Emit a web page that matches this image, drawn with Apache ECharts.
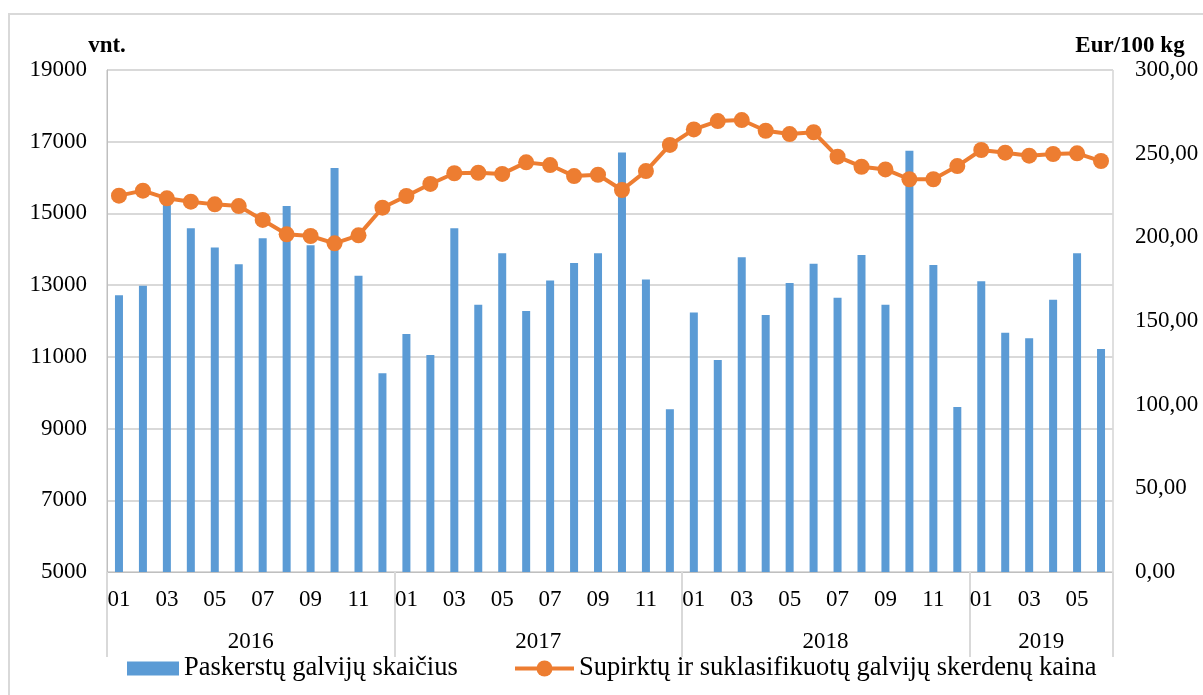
<!DOCTYPE html>
<html>
<head>
<meta charset="utf-8">
<script src="https://cdn.jsdelivr.net/npm/echarts@6/dist/echarts.min.js"></script>
<style>
html,body{margin:0;padding:0;background:#fff;}
#frame{position:absolute;left:8px;top:13px;width:1300px;height:800px;border:2px solid #d9d9d9;box-sizing:border-box;}
#chart{position:absolute;left:0;top:0;width:1203px;height:695px;}
</style>
</head>
<body>
<div id="frame"></div>
<div id="chart"></div>
<script>
// ---- data ----
const months = ['01','02','03','04','05','06','07','08','09','10','11','12',
  '01','02','03','04','05','06','07','08','09','10','11','12',
  '01','02','03','04','05','06','07','08','09','10','11','12',
  '01','02','03','04','05','06'];
const years = ['2016','2017','2018','2019'];
const yearStart = [0, 12, 24, 36, 42];           // category boundaries of each year
const slaughtered = [12720, 12980, 15400, 14590, 14050, 13580, 14310, 15210, 14110, 16270, 13260, 10540,
  11640, 11050, 14590, 12450, 13890, 12280, 13130, 13620, 13890, 16700, 13160, 9540,
  12240, 10910, 13780, 12170, 13060, 13600, 12650, 13840, 12450, 16750, 13560, 9600,
  13110, 11670, 11520, 12590, 13890, 11220];
const price = [224.9, 227.9, 223.3, 221.3, 219.7, 218.7, 210.4, 201.8, 200.8, 196.4, 201.2, 217.7,
  224.7, 231.9, 238.3, 238.6, 237.9, 244.8, 243.2, 236.6, 237.4, 228.3, 239.6, 255.2,
  264.5, 269.5, 270.1, 263.7, 261.7, 262.8, 248.2, 242.2, 240.6, 234.7, 234.7, 242.6,
  252.2, 250.6, 248.8, 249.8, 250.2, 245.6];
const leftTicks = [5000, 7000, 9000, 11000, 13000, 15000, 17000, 19000];
const rightTicks = [0, 50, 100, 150, 200, 250, 300];
const seriesNames = ['Paskerstų galvijų skaičius', 'Supirktų ir suklasifikuotų galvijų skerdenų kaina'];

const yearCenters = years.map((y, i) => (yearStart[i] + yearStart[i + 1]) / 2);
const FONT = "'Liberation Serif','Times New Roman',serif";
const legendText = {fontFamily: FONT, fontSize: 26.5, color: '#000'};

const chart = echarts.init(document.getElementById('chart'), null, {renderer: 'canvas'});
chart.setOption({
  animation: false,
  textStyle: {fontFamily: FONT, color: '#000'},
  grid: {left: 107, right: 90, top: 70, bottom: 123, show: true, borderColor: '#bfbfbf', borderWidth: 1, backgroundColor: 'transparent'},
  legend: [
    {
      left: 127, top: 655, padding: 0, itemWidth: 52, itemHeight: 14,
      textStyle: legendText,
      data: [{name: seriesNames[0], icon: 'rect'}]
    },
    {
      left: 513, top: 655, padding: 0, itemWidth: 59, itemHeight: 20,
      textStyle: legendText,
      lineStyle: {width: 4},
      data: [{name: seriesNames[1]}]
    }
  ],
  xAxis: [
    {
      type: 'category', data: months, boundaryGap: true, position: 'bottom',
      axisLine: {show: true, lineStyle: {color: '#bfbfbf', width: 1}},
      axisTick: {show: false},
      axisLabel: {interval: 1, margin: 16, fontSize: 23, fontFamily: FONT, color: '#000'},
      splitLine: {show: false}
    },
    {
      type: 'value', min: 0, max: months.length, position: 'bottom',
      axisLine: {show: false},
      axisTick: {show: true, customValues: yearStart, length: 85, lineStyle: {color: '#d9d9d9', width: 2}},
      axisLabel: {customValues: yearCenters, margin: 58, fontSize: 23, fontFamily: FONT, color: '#000',
        formatter: v => years[yearCenters.indexOf(v)] || ''},
      splitLine: {show: false}
    }
  ],
  yAxis: [
    {
      type: 'value', min: leftTicks[0], max: leftTicks[leftTicks.length - 1], position: 'left',
      name: 'vnt.', nameLocation: 'end', nameGap: 12,
      nameTextStyle: {fontFamily: FONT, fontSize: 23, fontWeight: 'bold', color: '#000'},
      axisLine: {show: true, lineStyle: {color: '#bfbfbf'}},
      axisTick: {show: false, customValues: leftTicks},
      splitLine: {show: true, lineStyle: {color: '#d9d9d9', width: 2}},
      axisLabel: {customValues: leftTicks, margin: 20, fontSize: 23, fontFamily: FONT, color: '#000',
        formatter: v => String(v)}
    },
    {
      type: 'value', min: rightTicks[0], max: rightTicks[rightTicks.length - 1], interval: 50, position: 'right',
      name: 'Eur/100 kg', nameLocation: 'end', nameGap: 12,
      nameTextStyle: {fontFamily: FONT, fontSize: 23, fontWeight: 'bold', color: '#000', padding: [0, 0, 0, 34]},
      axisLine: {show: false},
      axisTick: {show: false},
      splitLine: {show: false},
      axisLabel: {margin: 22, fontSize: 23, fontFamily: FONT, color: '#000',
        formatter: v => v.toFixed(2).replace('.', ',')}
    }
  ],
  series: [
    {
      name: seriesNames[0], type: 'bar', xAxisIndex: 0, yAxisIndex: 0,
      data: slaughtered, barWidth: 8,
      itemStyle: {color: '#5b9bd5'}, z: 2
    },
    {
      name: seriesNames[1], type: 'line', xAxisIndex: 0, yAxisIndex: 1,
      data: price, symbol: 'circle', symbolSize: 16, showAllSymbol: true,
      lineStyle: {color: '#ed7d31', width: 4},
      itemStyle: {color: '#ed7d31'}, z: 3
    }
  ]
});
</script>
</body>
</html>
